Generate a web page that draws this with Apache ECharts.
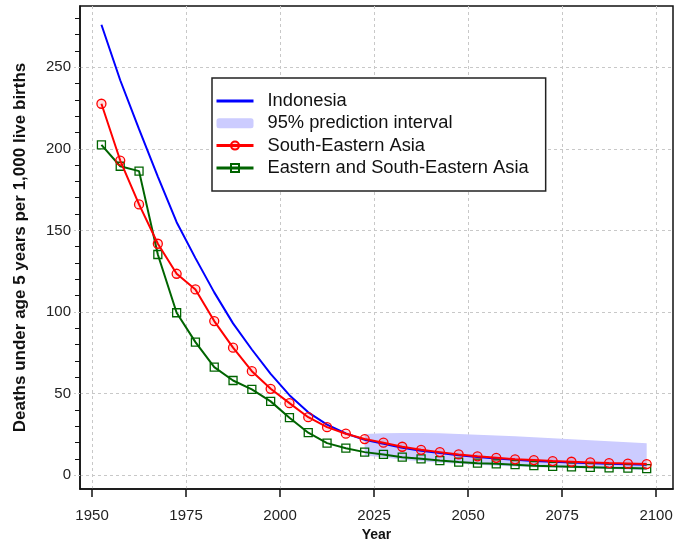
<!DOCTYPE html>
<html>
<head>
<meta charset="utf-8">
<script src="https://cdn.jsdelivr.net/npm/echarts@6/dist/echarts.min.js"></script>
<style>html,body{margin:0;padding:0;background:#fff}#c{width:692px;height:539px}</style>
</head>
<body>
<div id="c"></div>
<script>
const years = [1952.5,1957.5,1962.5,1967.5,1972.5,1977.5,1982.5,1987.5,1992.5,1997.5,2002.5,2007.5,2012.5,2017.5,2022.5,2027.5,2032.5,2037.5,2042.5,2047.5,2052.5,2057.5,2062.5,2067.5,2072.5,2077.5,2082.5,2087.5,2092.5,2097.5];
const indonesia = [276,242,212,183,155,133,112,93,77,62,49,38.5,31,25.5,21.6,19.2,16.8,15.0,13.5,12.2,11.1,10.2,9.4,8.7,8.2,7.7,7.3,6.9,6.6,6.4];
const seAsia = [227.6,192.8,165.9,141.8,123.4,113.8,94.4,78.1,63.7,52.9,44.1,35.5,29.4,25.4,22.1,19.9,17.4,15.5,14.1,12.7,11.5,10.6,9.7,9.2,8.6,8.2,7.8,7.4,7.1,6.8];
const eseAsia = [202.4,189.3,186.3,135.2,99.5,81.5,66.2,58.0,52.5,45.2,35.2,26.0,19.6,16.5,14.1,12.7,11.0,10.0,8.9,8.0,7.3,6.9,6.4,5.8,5.4,5.1,4.8,4.5,4.3,4.0];
const bandYears = [2022.5,2027.5,2032.5,2037.5,2042.5,2047.5,2052.5,2057.5,2062.5,2067.5,2072.5,2077.5,2082.5,2087.5,2092.5,2097.5];
const bandUpper = [25.2,25.6,25.8,25.8,25.6,25.2,24.8,24.3,23.8,23.2,22.6,22.0,21.4,20.8,20.2,19.6];
const bandLower = [12,11,9.5,8.5,7.6,6.9,6.3,5.8,5.3,4.9,4.6,4.3,4.0,3.7,3.4,3.1];
const xTicks = [1950,1975,2000,2025,2050,2075,2100];
const yTicks = [0,50,100,150,200,250];
const yMinorTicks = [10,20,30,40,60,70,80,90,110,120,130,140,160,170,180,190,210,220,230,240,260,270,280];
const names = ['Indonesia','95% prediction interval','South-Eastern Asia','Eastern and South-Eastern Asia'];

const pair = (xs, ys) => xs.map((x, i) => [x, ys[i]]);
const FONT = '"Liberation Sans", Arial, sans-serif';
const grid = '#c8c8c8';

const chart = echarts.init(document.getElementById('c'), null, {renderer: 'canvas'});
chart.setOption({
  animation: false,
  backgroundColor: '#fff',
  textStyle: {fontFamily: FONT},
  grid: {left: 80, right: 19, top: 6, bottom: 50, show: true, borderColor: '#111', borderWidth: 1.5, backgroundColor: 'transparent', containLabel: false, outerBoundsMode: 'none'},
  legend: {
    orient: 'vertical', left: 212, top: 78,
    padding: [14, 17, 14, 3],
    backgroundColor: '#fff', borderColor: '#222', borderWidth: 1.5, borderRadius: 0,
    itemWidth: 37, itemHeight: 10, itemGap: 4.3,
    textStyle: {fontFamily: FONT, fontSize: 18.3, lineHeight: 18, color: '#111', padding: [0, 0, 0, 9]},
    selectedMode: false,
    data: [
      {name: names[0], lineStyle: {width: 3}, itemStyle: {opacity: 0}},
      {name: names[1], icon: 'roundRect', itemStyle: {color: '#ccccff'}},
      {name: names[2], lineStyle: {width: 3}},
      {name: names[3], lineStyle: {width: 3}}
    ]
  },
  xAxis: {
    type: 'value', min: 1946.8, max: 2104.5,
    name: 'Year', nameLocation: 'middle', nameGap: 35,
    nameTextStyle: {fontFamily: FONT, fontWeight: 'bold', fontSize: 14, color: '#111'},
    axisLine: {show: true, onZero: false, lineStyle: {color: '#111', width: 1.5}},
    axisTick: {show: true, length: 8, customValues: xTicks, lineStyle: {color: '#111', width: 1.5}},
    axisLabel: {customValues: xTicks, margin: 19, fontSize: 15, color: '#222', fontFamily: FONT, formatter: v => String(v)},
    splitLine: {show: true, lineStyle: {color: grid, type: [3, 3], width: 1}}
  },
  yAxis: [{
    type: 'value', min: -8.5, max: 287.5, position: 'left',
    name: 'Deaths under age 5 years per 1,000 live births', nameLocation: 'middle', nameGap: 51,
    nameTextStyle: {fontFamily: FONT, fontWeight: 'bold', fontSize: 17, color: '#111'},
    axisLine: {show: true, onZero: false, lineStyle: {color: '#111', width: 1.5}},
    axisTick: {show: true, length: 7, customValues: yTicks, lineStyle: {color: grid, type: [2, 2], width: 1}},
    axisLabel: {customValues: yTicks, margin: 9, fontSize: 15, color: '#222', fontFamily: FONT},
    splitLine: {show: true, lineStyle: {color: grid, type: [3, 3], width: 1}}
  }, {
    type: 'value', min: -8.5, max: 287.5, position: 'left', offset: 0,
    axisLine: {show: false},
    axisTick: {show: true, length: 5, customValues: yMinorTicks, lineStyle: {color: '#111', width: 1}},
    axisLabel: {show: false},
    splitLine: {show: false}
  }],
  series: [
    {
      name: names[1], type: 'custom', z: 1, silent: true,
      itemStyle: {color: '#ccccff'},
      data: bandYears.map((x, i) => [x, bandLower[i], bandUpper[i]]),
      renderItem: function (params, api) {
        if (params.dataIndex !== 0) return null;
        const pts = [];
        for (let i = 0; i < bandYears.length; i++) pts.push(api.coord([bandYears[i], bandUpper[i]]));
        for (let i = bandYears.length - 1; i >= 0; i--) pts.push(api.coord([bandYears[i], bandLower[i]]));
        return {type: 'polygon', shape: {points: pts}, style: {fill: '#ccccff', stroke: null}};
      },
      encode: {x: 0, y: [1, 2]}
    },
    {
      name: names[0], type: 'line', data: pair(years, indonesia),
      symbol: 'none', lineStyle: {color: '#0000ff', width: 2}, itemStyle: {color: '#0000ff'}, z: 2
    },
    {
      name: names[3], type: 'line', data: pair(years, eseAsia),
      symbol: 'rect', symbolSize: 8,
      lineStyle: {color: '#006400', width: 2},
      itemStyle: {color: 'rgba(0,100,0,0)', borderColor: '#006400', borderWidth: 1.3}, z: 3
    },
    {
      name: names[2], type: 'line', data: pair(years, seAsia),
      symbol: 'circle', symbolSize: 9,
      lineStyle: {color: '#ff0000', width: 2},
      itemStyle: {color: 'rgba(255,0,0,0.12)', borderColor: '#ff0000', borderWidth: 1.3}, z: 4
    }
  ]
});
</script>
</body>
</html>
